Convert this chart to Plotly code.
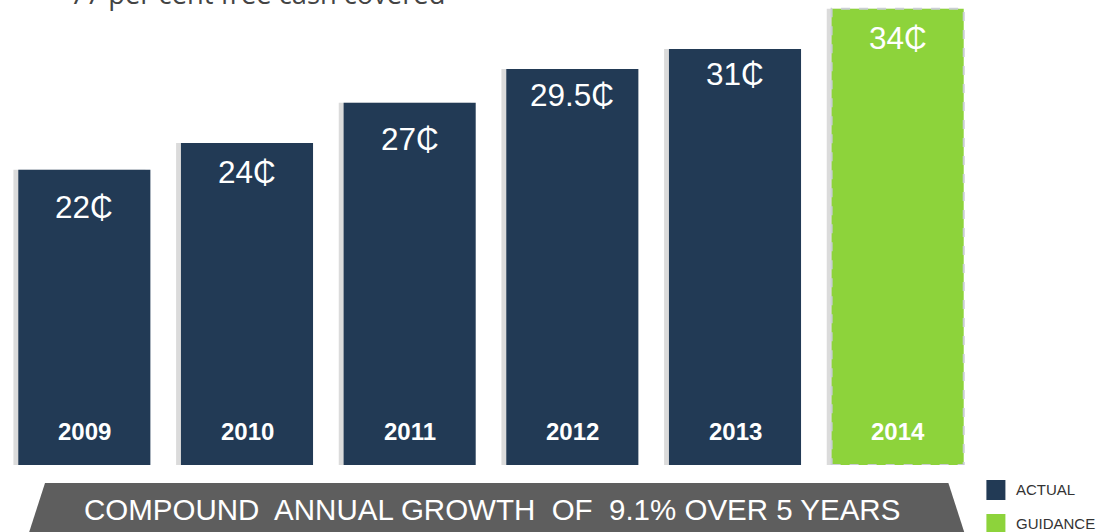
import plotly.graph_objects as go

years = ["2009", "2010", "2011", "2012", "2013", "2014"]
values = [22, 24, 27, 29.5, 31, 34]
labels = ["22₵", "24₵", "27₵", "29.5₵", "31₵", "34₵"]
kinds = ["ACTUAL", "ACTUAL", "ACTUAL", "ACTUAL", "ACTUAL", "GUIDANCE"]
banner_text = "COMPOUND  ANNUAL GROWTH  OF  9.1% OVER 5 YEARS"
top_text = "77 per cent free cash covered"

# label offsets below bar top (pixels), styling only
label_offsets = [37, 29, 36, 26, 25, 29]

NAVY = "#223A55"
GREEN = "#8DD33B"
colors = [NAVY if k == "ACTUAL" else GREEN for k in kinds]

W, H = 1099, 532
L, T, B = 3, 0, 67
PW = 975.6
PH = H - T - B
R = W - L - PW

def px(x):
    return (x - L) / PW

def py(y):
    return (H - B - y) / PH

xs = list(range(len(years)))
BW = 0.812

fig = go.Figure()
# soft shadow
fig.add_trace(go.Bar(x=[i - 0.03 for i in xs], y=values, width=BW,
                     marker=dict(color="rgba(0,0,0,0.14)", line=dict(width=0)),
                     hoverinfo="skip", showlegend=False))
fig.add_trace(go.Bar(x=xs, y=values, width=BW, marker=dict(color=colors, line=dict(width=0)),
                     showlegend=False))

FONT = "Liberation Sans, Arial"
ann = []
for i, (v, lab, yr) in enumerate(zip(values, labels, years)):
    ann.append(dict(x=i, y=v, xref="x", yref="y", text=lab, showarrow=False, yshift=-label_offsets[i],
                    yanchor="middle", font=dict(family=FONT, size=31.5, color="white")))
    ann.append(dict(x=i, y=0, xref="x", yref="y", text="<b>" + yr + "</b>", showarrow=False, yshift=34,
                    yanchor="middle", font=dict(family=FONT, size=24, color="white")))

shapes = []
for i, k in enumerate(kinds):
    if k == "GUIDANCE":
        shapes.append(dict(type="rect", xref="x", yref="y", x0=i - BW / 2, x1=i + BW / 2, y0=0, y1=values[i],
                           line=dict(color="#C9CED3", width=2, dash="dash"), fillcolor="rgba(0,0,0,0)"))

# banner
pts = [(45, 483), (948, 483), (968, 545), (948, 607), (45, 607), (25, 545)]
path = "M " + " L ".join(f"{px(a):.5f},{py(b):.5f}" for a, b in pts) + " Z"
shapes.append(dict(type="path", xref="paper", yref="paper", path=path, fillcolor="#5E5E5E", line=dict(width=0)))
ann.append(dict(x=px(492), y=py(510), xref="paper", yref="paper", text=banner_text, showarrow=False,
                font=dict(family=FONT, size=29.5, color="white"),
                xanchor="center", yanchor="middle"))

# legend
for (lab, col, y0) in [("ACTUAL", NAVY, 480), ("GUIDANCE", GREEN, 514)]:
    shapes.append(dict(type="rect", xref="paper", yref="paper", x0=px(986), x1=px(1005), y0=py(y0), y1=py(y0 + 20),
                       fillcolor=col, line=dict(width=0)))
    ann.append(dict(x=px(1014), y=py(y0 + 9.5), xref="paper", yref="paper", text=lab, showarrow=False,
                    xanchor="left", yanchor="middle",
                    font=dict(family=FONT, size=15, color="#333333")))

# top cut-off text
ann.append(dict(x=px(68), y=py(14), xref="paper", yref="paper", text=top_text, showarrow=False,
                xanchor="left", yanchor="bottom",
                font=dict(family="Open Sans, Liberation Sans", size=27.3, color="#444444")))

fig.update_layout(
    width=W, height=H, margin=dict(l=L, r=R, t=T, b=B),
    paper_bgcolor="white", plot_bgcolor="white", barmode="overlay",
    xaxis=dict(range=[-0.5, len(years) - 0.5], visible=False, fixedrange=True),
    yaxis=dict(range=[0, PH / 13.42], visible=False, fixedrange=True),
    annotations=ann, shapes=shapes,
)
fig.write_html("out.html", config={"displayModeBar": False},
               post_script="document.body.style.margin='0';")
